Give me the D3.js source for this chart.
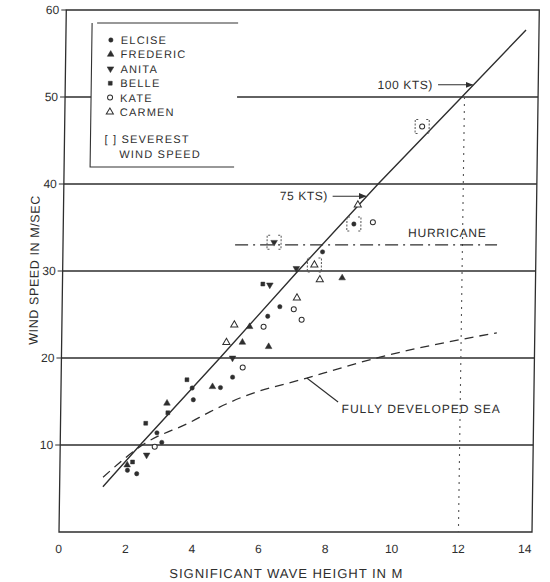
<!DOCTYPE html>
<html>
<head>
<meta charset="utf-8">
<script src="https://cdn.jsdelivr.net/npm/d3@7"></script>
<style>
  body { margin: 0; background: #fff; }
  svg { display: block; }
  text { font-family: "Liberation Sans", Arial, sans-serif; fill: #2e2e2e; }
</style>
</head>
<body>
<script>
// Axis ticks and reference levels
const xTicks = [0, 2, 4, 6, 8, 10, 12, 14];
const yTicks = [10, 20, 30, 40, 50, 60];
const gridLevels = [10, 20, 30, 40, 50];

// Storm observations: [significant wave height (m), wind speed (m/s)]
const elcise   = [[2.03, 7.1], [2.31, 6.7], [2.9, 11.4], [3.05, 10.3], [3.94, 16.55], [3.98, 15.2],
                  [4.79, 16.6], [5.15, 17.8], [6.18, 24.8], [6.54, 25.9], [7.8, 32.2]];
const frederic = [[2.02, 7.7], [3.19, 14.8], [4.55, 16.7], [5.43, 21.8], [5.64, 23.6], [6.22, 21.3], [8.4, 29.2]];
const anita    = [[2.6, 8.85], [5.14, 20.0], [6.23, 28.4], [7.02, 30.3]];
const belle    = [[2.18, 8.05], [2.56, 12.5], [3.22, 13.7], [3.78, 17.5], [6.02, 28.5]];
const kate     = [[2.84, 9.8], [5.45, 18.9], [6.06, 23.6], [6.96, 25.6], [7.2, 24.4], [9.3, 35.6]];
const carmen   = [[4.95, 21.8], [5.18, 23.8], [7.05, 26.9], [7.73, 29.0], [8.84, 37.6]];

// Severest wind speed of each storm, shown in brackets
const severestStorms = ["ELCISE", "ANITA", "KATE", "CARMEN"];
const severestH      = [8.73, 6.34, 10.74, 7.56];
const severestU      = [35.4, 33.3, 46.6, 30.7];

// Wind speed vs wave height relation (solid) and fully developed sea (dashed)
const trendLine = [[1.30, 5.2], [2.40, 10], [4.76, 20], [7.07, 30], [9.44, 40], [11.92, 50], [13.82, 57.7]];
const fullySea  = [[1.30, 6.3], [2.55, 10.2], [3.89, 12.6], [4.48, 13.8], [5.38, 15.4], [7.38, 17.7], [9.57, 20.1], [13.07, 22.9]];

// Hurricane threshold and knot markers
const hurricaneSpeed = 33;
const hurricaneSpan = [5.17, 13.04];
const knotLabels = ["100 KTS)", "75 KTS)"];
const knotSpeeds = [51.4, 38.6];
const knotTextEnd = [11.05, 7.94];
const knotArrowStart = [11.2, 8.08];

const legendNames = ["ELCISE", "FREDERIC", "ANITA", "BELLE", "KATE", "CARMEN"];

const W = 550, H = 582;
const x = d3.scaleLinear().domain([0, 14]).range([59, 525]);
const y = d3.scaleLinear().domain([0, 60]).range([532, 10]);
const frameRight = 532;
const ink = "#2e2e2e";

const svg = d3.select("body").append("svg").attr("width", W).attr("height", H);
svg.append("rect").attr("width", W).attr("height", H).attr("fill", "#fff");

// the whole sheet leans slightly, as drawn
const g = svg.append("g")
  .attr("transform", `translate(0,${y(0)}) skewX(-0.8) translate(0,${-y(0)})`);

svg.append("defs").append("marker")
  .attr("id", "arrow").attr("viewBox", "0 0 10 10").attr("refX", 9).attr("refY", 5)
  .attr("markerWidth", 7).attr("markerHeight", 7).attr("orient", "auto")
  .append("path").attr("d", "M0,1 L10,5 L0,9 Z").attr("fill", ink);

// horizontal grid at every 10 m/s
g.append("g").selectAll("line").data(gridLevels).join("line")
  .attr("x1", x(0)).attr("x2", frameRight)
  .attr("y1", d => y(d)).attr("y2", d => y(d))
  .attr("stroke", ink).attr("stroke-width", 1.3);

// frame
g.append("path")
  .attr("d", `M${x(0)},${y(60)} H${frameRight} V${y(0)} H${x(0)} Z`)
  .attr("fill", "none").attr("stroke", ink).attr("stroke-width", 1.3);

// left ticks and labels
g.append("g").selectAll("line").data(yTicks).join("line")
  .attr("x1", x(0) - 5).attr("x2", x(0))
  .attr("y1", d => y(d)).attr("y2", d => y(d))
  .attr("stroke", ink).attr("stroke-width", 1.2);
g.append("g").selectAll("text").data(yTicks).join("text")
  .attr("x", x(0) - 7).attr("y", d => y(d)).attr("dy", "0.35em")
  .attr("text-anchor", "end").attr("font-size", 12).text(d => d);

// bottom tick labels
g.append("g").selectAll("text").data(xTicks).join("text")
  .attr("x", d => x(d)).attr("y", 553)
  .attr("text-anchor", "middle").attr("font-size", 12).text(d => d);

// axis titles
g.append("text").attr("x", 287).attr("y", 578).attr("text-anchor", "middle")
  .attr("font-size", 13).attr("letter-spacing", 1.0).text("SIGNIFICANT WAVE HEIGHT IN M");
g.append("text").attr("transform", "translate(35,270) rotate(-90)").attr("text-anchor", "middle")
  .attr("font-size", 12.5).attr("letter-spacing", 0.6).text("WIND SPEED IN M/SEC");

// dotted drop line at 12 m
g.append("line")
  .attr("x1", x(12)).attr("x2", x(12)).attr("y1", y(50)).attr("y2", y(0))
  .attr("stroke", "#555").attr("stroke-width", 1.1).attr("stroke-dasharray", "2,5");

// hurricane threshold
g.append("line")
  .attr("x1", x(hurricaneSpan[0])).attr("x2", x(hurricaneSpan[1]))
  .attr("y1", y(hurricaneSpeed)).attr("y2", y(hurricaneSpeed))
  .attr("stroke", ink).attr("stroke-width", 1.2).attr("stroke-dasharray", "13,5,2,5");
g.append("text").attr("x", x(10.36)).attr("y", y(hurricaneSpeed) - 8)
  .attr("font-size", 12).attr("letter-spacing", 0.8).text("HURRICANE");

const line = d3.line().x(d => x(d[0])).y(d => y(d[1]));

// fully developed sea
g.append("path").datum(fullySea)
  .attr("d", line.curve(d3.curveMonotoneX))
  .attr("fill", "none").attr("stroke", ink).attr("stroke-width", 1.3)
  .attr("stroke-dasharray", "9,6");
g.append("line")
  .attr("x1", x(7.38)).attr("y1", y(17.7)).attr("x2", x(8.33)).attr("y2", y(14.94))
  .attr("stroke", ink).attr("stroke-width", 1.1);
g.append("text").attr("x", x(8.44)).attr("y", y(13.7))
  .attr("font-size", 12).attr("letter-spacing", 1.0).text("FULLY DEVELOPED SEA");

// wind speed relation
g.append("path").datum(trendLine)
  .attr("d", d3.line().x(d => x(d[0])).y(d => y(d[1])))
  .attr("fill", "none").attr("stroke", ink).attr("stroke-width", 1.4);

// knot markers
knotLabels.forEach((lab, i) => {
  g.append("text").attr("x", x(knotTextEnd[i])).attr("y", y(knotSpeeds[i])).attr("dy", "0.35em")
    .attr("text-anchor", "end").attr("font-size", 12).attr("letter-spacing", 0.6).text(lab);
  const lo = d3.bisector(d => d[1]).left(trendLine, knotSpeeds[i]);
  const a = trendLine[lo - 1], b = trendLine[lo];
  const hx = a[0] + (knotSpeeds[i] - a[1]) / (b[1] - a[1]) * (b[0] - a[0]);
  g.append("line")
    .attr("x1", x(knotArrowStart[i])).attr("x2", x(hx) - 1)
    .attr("y1", y(knotSpeeds[i])).attr("y2", y(knotSpeeds[i]))
    .attr("stroke", ink).attr("stroke-width", 1.1).attr("marker-end", "url(#arrow)");
});

// symbols per storm
const symbolStyle = {
  ELCISE:   { type: d3.symbolCircle,   size: 15, rot: 0,   open: false },
  FREDERIC: { type: d3.symbolTriangle, size: 19, rot: 0,   open: false },
  ANITA:    { type: d3.symbolTriangle, size: 19, rot: 180, open: false },
  BELLE:    { type: d3.symbolSquare,   size: 15, rot: 0,   open: false },
  KATE:     { type: d3.symbolCircle,   size: 20, rot: 0,   open: true  },
  CARMEN:   { type: d3.symbolTriangle, size: 22, rot: 0,   open: true  }
};
function drawSymbol(sel, name, px, py) {
  const s = symbolStyle[name];
  sel.append("path")
    .attr("d", d3.symbol().type(s.type).size(s.size)())
    .attr("transform", `translate(${px},${py}) rotate(${s.rot})`)
    .attr("fill", s.open ? "#fff" : ink)
    .attr("stroke", ink).attr("stroke-width", s.open ? 1.0 : 0.5);
}

const stormData = { ELCISE: elcise, FREDERIC: frederic, ANITA: anita, BELLE: belle, KATE: kate, CARMEN: carmen };
const marks = g.append("g");
Object.keys(stormData).forEach(name => {
  stormData[name].forEach(d => drawSymbol(marks, name, x(d[0]), y(d[1])));
});

// severest wind speed, bracketed
severestStorms.forEach((name, i) => {
  const px = x(severestH[i]), py = y(severestU[i]);
  drawSymbol(marks, name, px, py);
  marks.append("path")
    .attr("d", `M${px - 4},${py - 7} H${px - 7} V${py + 7} H${px - 4} M${px + 4},${py - 7} H${px + 7} V${py + 7} H${px + 4}`)
    .attr("fill", "none").attr("stroke", "#555").attr("stroke-width", 1)
    .attr("stroke-dasharray", "2,1.5");
});

// legend
const lg = g.append("g");
lg.append("rect").attr("x", 85).attr("y", 23).attr("width", 146).attr("height", 144).attr("fill", "#fff");
lg.append("path").attr("d", "M90,23 H231 M85,23 V167 H229")
  .attr("fill", "none").attr("stroke", "#333").attr("stroke-width", 1.1);
legendNames.forEach((name, i) => {
  const cy = 40 + i * 14.4;
  drawSymbol(lg, name, 104, cy);
  lg.append("text").attr("x", 114).attr("y", cy).attr("dy", "0.36em")
    .attr("font-size", 11).attr("letter-spacing", 1.2).text(name);
});
lg.append("text").attr("x", 99).attr("y", 139).attr("dy", "0.36em")
  .attr("font-size", 11).attr("letter-spacing", 1.2).text("[ ] SEVEREST");
lg.append("text").attr("x", 114).attr("y", 154).attr("dy", "0.36em")
  .attr("font-size", 11).attr("letter-spacing", 1.2).text("WIND SPEED");
</script>
</body>
</html>
